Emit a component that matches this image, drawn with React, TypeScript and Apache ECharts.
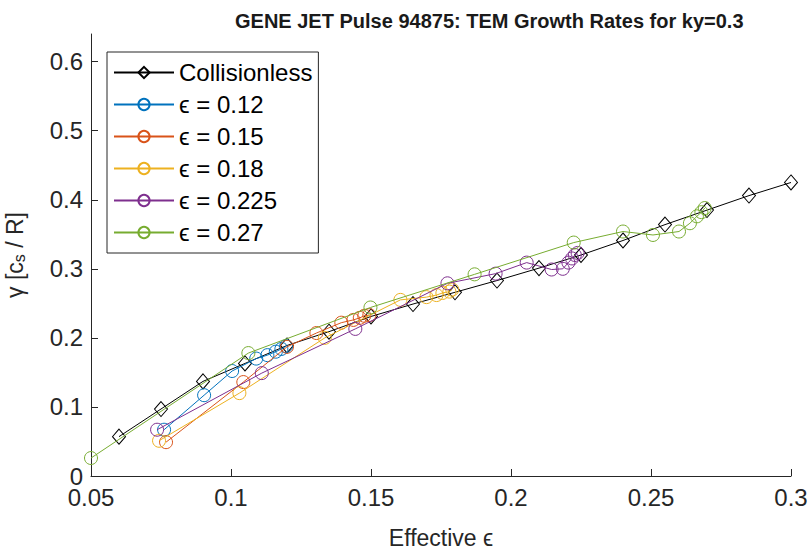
import React, { useEffect, useRef } from "react";
import * as echarts from "echarts";

const collX = [0.06, 0.075, 0.09, 0.105, 0.12, 0.135, 0.15, 0.165, 0.18, 0.195, 0.21, 0.225, 0.24, 0.255, 0.27, 0.285, 0.3];
const collY = [0.057, 0.097, 0.137, 0.163, 0.189, 0.209, 0.231, 0.249, 0.266, 0.283, 0.301, 0.32, 0.341, 0.364, 0.385, 0.406, 0.425];

const e012X = [0.0761, 0.0904, 0.1004, 0.109, 0.113, 0.116, 0.118, 0.1197];
const e012Y = [0.067, 0.117, 0.152, 0.17, 0.175, 0.18, 0.184, 0.188];

const e015X = [0.0768, 0.1044, 0.12, 0.1305, 0.1394, 0.1437, 0.146, 0.1476, 0.1494];
const e015Y = [0.049, 0.136, 0.187, 0.207, 0.222, 0.226, 0.229, 0.232, 0.233];

const e018X = [0.0743, 0.103, 0.1335, 0.1605, 0.1698, 0.1734, 0.1755, 0.178, 0.179];
const e018Y = [0.051, 0.12, 0.2, 0.255, 0.259, 0.262, 0.265, 0.267, 0.27];

const e0225X = [0.0736, 0.111, 0.1444, 0.1773, 0.1945, 0.2056, 0.2145, 0.2185, 0.2205, 0.2218, 0.2228, 0.2238];
const e0225Y = [0.067, 0.149, 0.213, 0.279, 0.293, 0.309, 0.299, 0.3, 0.309, 0.315, 0.32, 0.323];

const e027X = [0.05, 0.1062, 0.1498, 0.187, 0.2224, 0.24, 0.2507, 0.26, 0.2639, 0.2664, 0.268, 0.2692];
const e027Y = [0.026, 0.178, 0.244, 0.292, 0.338, 0.354, 0.349, 0.354, 0.366, 0.376, 0.382, 0.388];

const seriesNames = ["Collisionless", "ϵ = 0.12", "ϵ = 0.15", "ϵ = 0.18", "ϵ = 0.225", "ϵ = 0.27"];
const seriesColors = ["#000000", "#0072BD", "#D95319", "#EDB120", "#7E2F8E", "#77AC30"];
const xTicks = [0.05, 0.1, 0.15, 0.2, 0.25, 0.3];
const yTicks = [0, 0.1, 0.2, 0.3, 0.4, 0.5, 0.6];

const FONT = "'Liberation Sans', Arial, Helvetica, sans-serif";
const AXIS_COLOR = "#262626";

function zip(xs: number[], ys: number[]) {
  return xs.map((x, i) => [x, ys[i]]);
}

export default function App() {
  const ref = useRef<HTMLDivElement>(null);
  useEffect(() => {
    if (!ref.current) return;
    const chart = echarts.init(ref.current, null, { renderer: "svg" });
    const datasets = [
      zip(collX, collY),
      zip(e012X, e012Y),
      zip(e015X, e015Y),
      zip(e018X, e018Y),
      zip(e0225X, e0225Y),
      zip(e027X, e027Y),
    ];
    const series = datasets.map((d, i) => ({
      type: "line",
      name: seriesNames[i],
      data: d,
      symbol: i === 0 ? "diamond" : "circle",
      symbolSize: i === 0 ? [13, 15] : 13,
      showAllSymbol: true,
      lineStyle: { color: seriesColors[i], width: 1 },
      itemStyle: { color: "rgba(255,255,255,0)", borderColor: seriesColors[i], borderWidth: 1 },
      emphasis: { disabled: true },
      z: 2 + i,
    }));
    chart.setOption({
      animation: false,
      backgroundColor: "#ffffff",
      title: {
        text: "GENE JET Pulse 94875: TEM Growth Rates for ky=0.3",
        left: 230,
        top: 6,
        textStyle: { fontFamily: FONT, fontSize: 20, fontWeight: "bold", color: "#1a1a1a" },
      },
      grid: { left: 91, right: 18, top: 34, bottom: 75, containLabel: false, outerBoundsMode: "none" },
      legend: {
        orient: "vertical",
        left: 107,
        top: 52,
        data: seriesNames,
        itemWidth: 60,
        itemHeight: 14,
        itemGap: 7,
        padding: [8, 6, 8, 6],
        backgroundColor: "#ffffff",
        borderColor: AXIS_COLOR,
        borderWidth: 1,
        borderRadius: 0,
        textStyle: { fontFamily: FONT, fontSize: 24, color: "#000000", lineHeight: 25 },
      },
      xAxis: {
        type: "value",
        min: 0.05,
        max: 0.3,
        interval: 0.05,
        name: "Effective ϵ",
        nameLocation: "middle",
        nameGap: 50,
        nameTextStyle: { fontFamily: FONT, fontSize: 23, color: AXIS_COLOR },
        axisLine: { show: true, lineStyle: { color: AXIS_COLOR, width: 1 } },
        axisTick: { show: true, inside: true, length: 7, lineStyle: { color: AXIS_COLOR }, customValues: xTicks },
        axisLabel: {
          fontFamily: FONT,
          fontSize: 24,
          color: AXIS_COLOR,
          margin: 9,
          customValues: xTicks,
          formatter: (v: number) => String(Number(v.toFixed(3))),
        },
        splitLine: { show: false },
      },
      yAxis: {
        type: "value",
        min: 0,
        max: 0.64,
        interval: 0.1,
        name: "γ [c{sub|s} / R]",
        nameLocation: "middle",
        nameGap: 64,
        nameTextStyle: {
          fontFamily: FONT,
          fontSize: 23,
          color: AXIS_COLOR,
          rich: { sub: { fontFamily: FONT, fontSize: 16, color: AXIS_COLOR, verticalAlign: "bottom", padding: [8, 0, 0, 0] } },
        },
        axisLine: { show: true, lineStyle: { color: AXIS_COLOR, width: 1 } },
        axisTick: { show: true, inside: true, length: 7, lineStyle: { color: AXIS_COLOR }, customValues: yTicks },
        axisLabel: {
          fontFamily: FONT,
          fontSize: 24,
          color: AXIS_COLOR,
          margin: 8,
          customValues: yTicks,
          formatter: (v: number) => String(Number(v.toFixed(3))),
        },
        splitLine: { show: false },
      },
      series,
    });
    return () => chart.dispose();
  }, []);
  return <div ref={ref} style={{ width: 809, height: 551, position: "absolute", left: 0, top: 0 }} />;
}
